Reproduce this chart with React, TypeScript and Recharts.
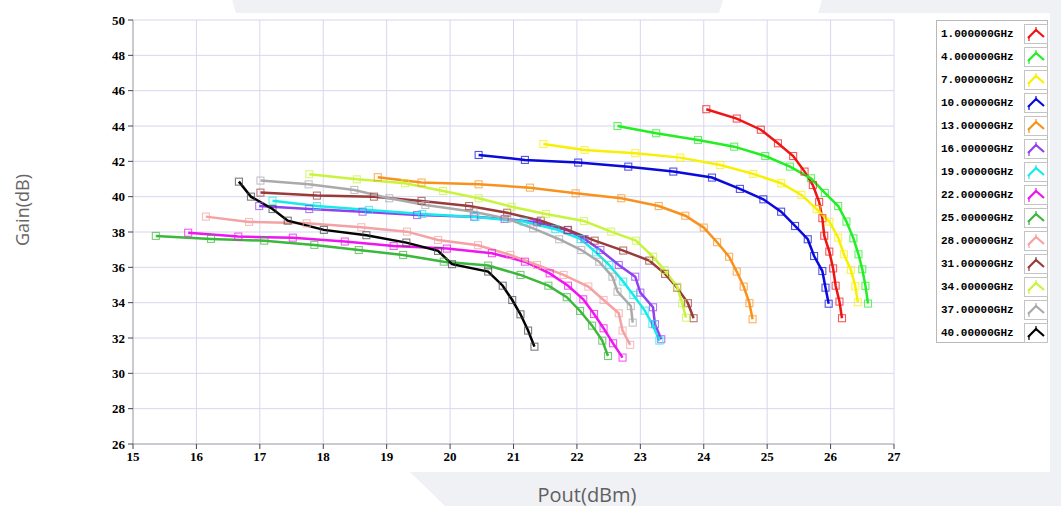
import { LineChart, Line, XAxis, YAxis, CartesianGrid } from "recharts";

// Pout (dBm), Gain (dB) pairs
const ghz1 = [
  [24.04, 44.95], [24.52, 44.42], [24.9, 43.79], [25.17, 43.02], [25.41, 42.3],
  [25.59, 41.42], [25.72, 40.66], [25.82, 39.7], [25.87, 38.78], [25.9, 37.79],
  [25.98, 36.89], [26.04, 35.94], [26.08, 34.96], [26.14, 34.06], [26.18, 33.12],
];
const ghz4 = [
  [22.64, 44.0], [23.25, 43.59], [23.91, 43.21], [24.48, 42.83], [24.97, 42.3],
  [25.36, 41.7], [25.69, 41.04], [25.91, 40.21], [26.12, 39.47], [26.25, 38.59],
  [26.36, 37.64], [26.44, 36.74], [26.5, 35.89], [26.55, 34.95], [26.59, 33.95],
];
const ghz7 = [
  [21.47, 42.98], [22.12, 42.64], [22.92, 42.46], [23.63, 42.21], [24.26, 41.79],
  [24.78, 41.29], [25.22, 40.76], [25.54, 40.1], [25.78, 39.29], [25.98, 38.59],
  [26.12, 37.68], [26.21, 36.74], [26.32, 35.85], [26.39, 34.93], [26.43, 34.02],
];
const ghz10 = [
  [20.45, 42.36], [21.18, 42.08], [22.02, 41.93], [22.81, 41.7], [23.52, 41.42],
  [24.13, 41.08], [24.57, 40.44], [24.94, 39.85], [25.22, 39.15], [25.44, 38.34],
  [25.64, 37.59], [25.74, 36.64], [25.87, 35.79], [25.92, 34.85], [25.97, 33.94],
];
const ghz13 = [
  [18.86, 41.1], [19.55, 40.8], [20.45, 40.7], [21.26, 40.51], [21.98, 40.19],
  [22.7, 39.91], [23.29, 39.47], [23.71, 38.92], [24.0, 38.25], [24.21, 37.42],
  [24.4, 36.6], [24.52, 35.76], [24.63, 34.91], [24.72, 33.97], [24.77, 33.06],
];
const ghz16 = [
  [16.99, 39.47], [17.78, 39.3], [18.62, 39.15], [19.48, 38.96], [20.38, 38.87],
  [20.86, 38.74], [21.37, 38.55], [21.85, 38.1], [22.12, 37.6], [22.37, 36.98],
  [22.66, 36.13], [22.92, 35.47], [23.0, 34.57], [23.2, 33.74], [23.23, 32.78],
  [23.33, 31.93],
];
const ghz19 = [
  [17.2, 39.77], [17.9, 39.47], [18.72, 39.25], [19.56, 39.02], [20.4, 38.85],
  [21.16, 38.59], [21.66, 38.16], [22.06, 37.6], [22.3, 36.85], [22.51, 36.13],
  [22.73, 35.19], [22.89, 34.44], [23.07, 33.55], [23.19, 32.79], [23.3, 31.85],
];
const ghz22 = [
  [15.87, 37.96], [16.66, 37.74], [17.52, 37.68], [18.34, 37.46], [19.11, 37.21],
  [19.95, 37.06], [20.66, 36.8], [21.18, 36.32], [21.57, 35.66], [21.86, 34.96],
  [22.1, 34.19], [22.27, 33.36], [22.42, 32.55], [22.57, 31.7], [22.72, 30.89],
];
const ghz25 = [
  [15.36, 37.78], [16.23, 37.61], [17.07, 37.51], [17.86, 37.27], [18.56, 36.98],
  [19.26, 36.7], [19.9, 36.32], [20.6, 36.1], [21.11, 35.57], [21.55, 34.96],
  [21.84, 34.31], [22.05, 33.53], [22.24, 32.7], [22.4, 31.85], [22.49, 30.98],
];
const ghz28 = [
  [16.15, 38.87], [16.83, 38.57], [17.74, 38.49], [18.6, 38.27], [19.32, 38.02],
  [19.81, 37.55], [20.44, 37.25], [20.95, 36.7], [21.37, 36.13], [21.79, 35.57],
  [22.18, 34.91], [22.42, 34.15], [22.66, 33.4], [22.72, 32.42], [22.84, 31.61],
];
const ghz31 = [
  [17.01, 40.23], [17.9, 40.06], [18.8, 40.0], [19.55, 39.76], [20.3, 39.47],
  [20.9, 39.09], [21.43, 38.64], [21.86, 38.12], [22.28, 37.51], [22.73, 36.95],
  [23.14, 36.38], [23.39, 35.63], [23.58, 34.85], [23.75, 33.97], [23.84, 33.12],
];
const ghz34 = [
  [17.78, 41.27], [18.53, 40.98], [19.29, 40.76], [19.89, 40.32], [20.45, 39.91],
  [20.97, 39.43], [21.51, 39.02], [22.11, 38.62], [22.54, 38.02], [22.93, 37.51],
  [23.2, 36.6], [23.38, 35.85], [23.58, 34.91], [23.66, 33.97], [23.72, 33.15],
];
const ghz37 = [
  [17.01, 40.91], [17.77, 40.7], [18.49, 40.38], [19.04, 39.91], [19.61, 39.53],
  [20.37, 39.15], [20.9, 38.75], [21.31, 38.21], [21.72, 37.59], [22.07, 36.98],
  [22.35, 36.32], [22.56, 35.47], [22.64, 34.62], [22.85, 33.81], [22.88, 32.87],
];
const ghz40 = [
  [16.67, 40.85], [16.86, 40.0], [17.2, 39.3], [17.44, 38.64], [18.01, 38.12],
  [18.68, 37.82], [19.31, 37.4], [19.81, 36.93], [20.03, 36.18], [20.6, 35.76],
  [20.83, 34.96], [20.98, 34.15], [21.11, 33.34], [21.23, 32.42], [21.33, 31.51],
];

const seriesNames = [
  "1.000000GHz", "4.000000GHz", "7.000000GHz", "10.00000GHz", "13.00000GHz",
  "16.00000GHz", "19.00000GHz", "22.00000GHz", "25.00000GHz", "28.00000GHz",
  "31.00000GHz", "34.00000GHz", "37.00000GHz", "40.00000GHz",
];
const seriesColors = [
  "#f01414", "#22ee22", "#f8f000", "#0a0adc", "#f7921e", "#9040f0", "#18eaea",
  "#f014f0", "#3cb83c", "#f4a2a2", "#9a3a3a", "#c8f43c", "#aaaaaa", "#000000",
];
const seriesPoints = [
  ghz1, ghz4, ghz7, ghz10, ghz13, ghz16, ghz19, ghz22, ghz25, ghz28, ghz31, ghz34, ghz37, ghz40,
];

const xTicks = [15, 16, 17, 18, 19, 20, 21, 22, 23, 24, 25, 26, 27];
const yTicks = [26, 28, 30, 32, 34, 36, 38, 40, 42, 44, 46, 48, 50];

const series = seriesNames.map((name, i) => ({
  name,
  color: seriesColors[i],
  data: seriesPoints[i].map(([x, y]) => ({ x, y })),
}));

const tickFont = {
  fontFamily: "'Liberation Serif', serif",
  fontWeight: 700,
  fontSize: 13,
  fill: "#000",
};

function squareDot(color: string, name: string) {
  return (props: any) => {
    const { cx, cy, index } = props;
    if (cx == null || cy == null) return <g key={`${name}-${index}`} />;
    return (
      <rect
        key={`${name}-${index}`}
        x={cx - 3.5}
        y={cy - 3.5}
        width={7}
        height={7}
        fill="none"
        stroke={color === "#000000" ? "#444" : color}
        strokeOpacity={0.7}
        strokeWidth={1.1}
      />
    );
  };
}

function LegendIcon({ color }: { color: string }) {
  return (
    <svg width={24} height={20} style={{ display: "block" }}>
      <rect x={0.5} y={0.5} width={23} height={19} fill="#fff" stroke="#c4c4c4" />
      <polyline points="4,14 12,6 20,13" fill="none" stroke={color} strokeWidth={2.2} />
      <line x1={12} y1={3} x2={12} y2={8} stroke={color} strokeWidth={1.2} />
      <line x1={5} y1={12} x2={5} y2={17} stroke={color} strokeWidth={1.2} />
    </svg>
  );
}

export default function App() {
  return (
    <div
      style={{
        position: "absolute",
        left: 0,
        top: 0,
        width: 1061,
        height: 506,
        background: "#fff",
        overflow: "hidden",
      }}
    >
      {/* faint page watermark behind the screenshot */}
      <svg width={1061} height={506} style={{ position: "absolute", left: 0, top: 0 }}>
        <polygon points="232,0 723,0 719,13 236,13" fill="#f0f1f5" />
        <polygon points="822,0 1061,0 1061,13 818,13" fill="#f0f1f5" />
        <polygon points="1050,0 1061,0 1061,506 1050,506" fill="#f0f1f5" />
        <polygon points="410,472 1061,472 1061,506 445,506" fill="#f0f1f5" />
      </svg>

      <div style={{ position: "absolute", left: 0, top: 0 }}>
        <LineChart
          width={1061}
          height={506}
          margin={{ top: 20, right: 167, bottom: 37, left: 93 }}
        >
          <CartesianGrid stroke="#d6d6f0" strokeWidth={1} />
          <XAxis
            type="number"
            dataKey="x"
            domain={[15, 27]}
            ticks={xTicks}
            allowDataOverflow
            height={25}
            tick={tickFont}
            tickSize={5}
            tickMargin={3}
            tickLine={{ stroke: "#444" }}
            axisLine={{ stroke: "#a8a8a8" }}
          />
          <YAxis
            type="number"
            dataKey="y"
            domain={[26, 50]}
            ticks={yTicks}
            allowDataOverflow
            width={40}
            tick={tickFont}
            tickSize={5}
            tickMargin={3}
            tickLine={{ stroke: "#444" }}
            axisLine={{ stroke: "#a8a8a8" }}
          />
          {series.map((s) => (
            <Line
              key={s.name}
              data={s.data}
              dataKey="y"
              name={s.name}
              type="linear"
              stroke={s.color}
              strokeWidth={2.5}
              dot={squareDot(s.color, s.name)}
              activeDot={false}
              isAnimationActive={false}
            />
          ))}
        </LineChart>
      </div>

      {/* legend */}
      <div
        style={{
          position: "absolute",
          left: 936,
          top: 20,
          width: 112,
          height: 323,
          border: "1px solid #b8b8b8",
          background: "#fff",
          boxSizing: "border-box",
        }}
      >
        {series.map((s, i) => (
          <div
            key={s.name}
            style={{
              position: "absolute",
              left: 4,
              top: 3 + i * 23,
              height: 20,
              display: "flex",
              alignItems: "center",
            }}
          >
            <span
              style={{
                width: 83,
                fontFamily: "'Liberation Mono', monospace",
                fontWeight: 700,
                fontSize: 11,
                color: "#000",
              }}
            >
              {s.name}
            </span>
            <LegendIcon color={s.color} />
          </div>
        ))}
      </div>

      {/* axis titles */}
      <div
        style={{
          position: "absolute",
          left: 22,
          top: 210,
          transform: "translate(-50%, -50%) rotate(-90deg)",
          fontFamily: "'Open Sans', sans-serif",
          fontSize: 18,
          color: "#666",
          whiteSpace: "nowrap",
        }}
      >
        Gain(dB)
      </div>
      <div
        style={{
          position: "absolute",
          left: 587,
          top: 494,
          transform: "translate(-50%, -50%)",
          fontFamily: "'Open Sans', sans-serif",
          fontSize: 20,
          color: "#606060",
          whiteSpace: "nowrap",
        }}
      >
        Pout(dBm)
      </div>
    </div>
  );
}
